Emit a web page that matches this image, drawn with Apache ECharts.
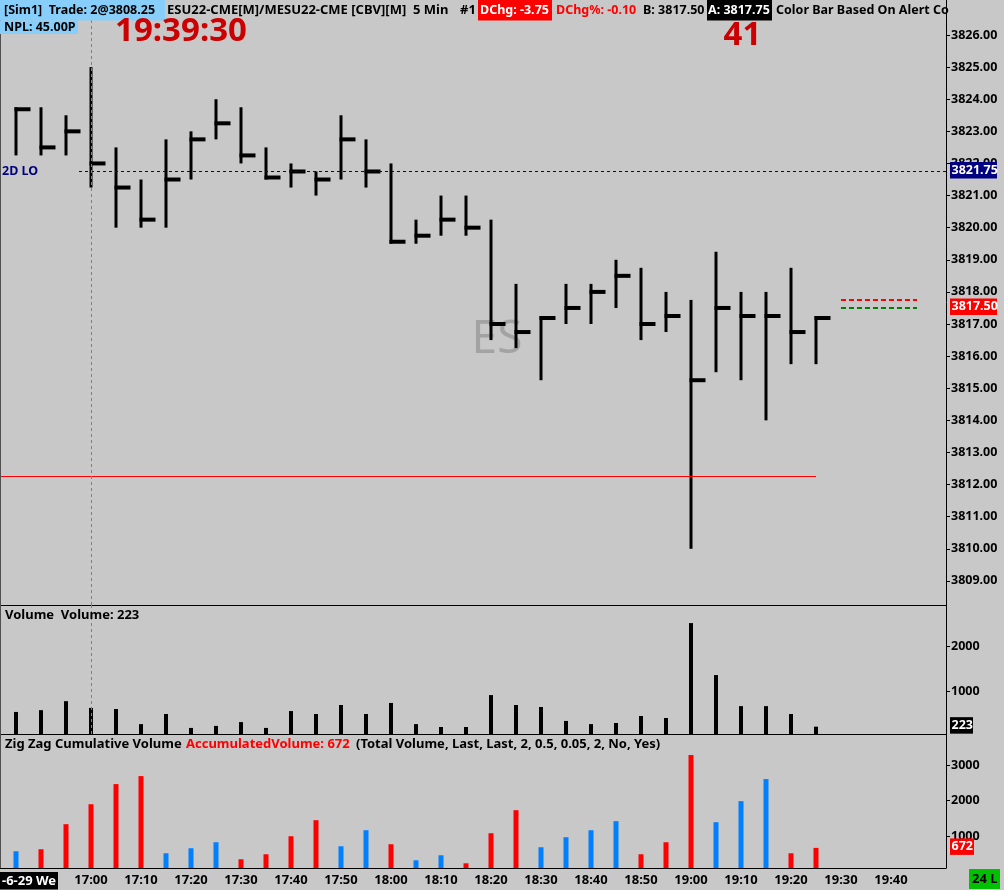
<!DOCTYPE html>
<html>
<head>
<meta charset="utf-8">
<script src="https://cdn.jsdelivr.net/npm/echarts@6/dist/echarts.min.js"></script>
<style>
  html, body { margin: 0; padding: 0; background: #c8c8c8; }
  #chart { width: 1004px; height: 890px; }
</style>
</head>
<body>
<div id="chart"></div>
<script>
// 5 min bars, ESU22
const times = ['16:45', '16:50', '16:55', '17:00', '17:05', '17:10', '17:15', '17:20', '17:25', '17:30', '17:35',
  '17:40', '17:45', '17:50', '17:55', '18:00', '18:05', '18:10', '18:15', '18:20', '18:25', '18:30', '18:35',
  '18:40', '18:45', '18:50', '18:55', '19:00', '19:05', '19:10', '19:15', '19:20', '19:25']
const highs = [3823.75, 3823.75, 3823.5, 3825.0, 3822.5, 3821.5, 3822.75, 3823.0, 3824.0, 3823.75, 3822.5,
  3822.0, 3821.75, 3823.5, 3822.75, 3822.0, 3820.25, 3821.0, 3821.0, 3820.25, 3818.25, 3817.25, 3818.25,
  3818.25, 3819.0, 3818.75, 3818.0, 3817.75, 3819.25, 3818.0, 3818.0, 3818.75, 3817.25]
const lows = [3822.25, 3822.25, 3822.25, 3821.25, 3820.0, 3820.0, 3820.0, 3821.5, 3822.75, 3822.0, 3821.5,
  3821.25, 3821.0, 3821.5, 3821.25, 3819.5, 3819.5, 3819.75, 3819.75, 3816.5, 3816.25, 3815.25, 3817.0,
  3817.0, 3817.5, 3816.5, 3816.75, 3810.0, 3815.5, 3815.25, 3814.0, 3815.75, 3815.75]
const closes = [3823.75, 3822.5, 3823.0, 3822.0, 3821.25, 3820.25, 3821.5, 3822.75, 3823.25, 3822.25, 3821.5,
  3821.75, 3821.5, 3822.75, 3821.75, 3819.5, 3819.75, 3820.25, 3820.0, 3817.0, 3816.75, 3817.25, 3817.5,
  3818.0, 3818.5, 3817.0, 3817.25, 3815.25, 3817.5, 3817.25, 3817.25, 3816.75, 3817.25]
const volumes = [550, 590, 790, 640, 615, 280, 505, 195, 240, 325, 195,
  570, 505, 705, 505, 750, 280, 215, 215, 925, 705, 660, 350,
  280, 305, 460, 415, 2525, 1370, 680, 680, 505, 223]
const zigzagVol = [577, 634, 1338, 1900, 2465, 2690, 521, 662, 831, 352, 493,
  1000, 1451, 718, 1169, 775, 324, 465, 239, 1085, 1732, 690, 972,
  1169, 1423, 493, 831, 3282, 1394, 1986, 2606, 521, 672]
// 1 = up leg (red), 0 = down leg (blue)
const zigzagUp = [0, 1, 1, 1, 1, 1, 0, 0, 0, 1, 1,
  1, 1, 0, 0, 1, 0, 0, 1, 1, 1, 0, 0,
  0, 0, 1, 1, 1, 0, 0, 0, 1, 1]

const priceTicks = [3809, 3810, 3811, 3812, 3813, 3814, 3815, 3816, 3817, 3818, 3819, 3820, 3821, 3822, 3823, 3824, 3825, 3826]
const volTicks = [1000, 2000]
const zzTicks = [1000, 2000, 3000]
const timeTicks = ['17:00', '17:10', '17:20', '17:30', '17:40', '17:50', '18:00', '18:10', '18:20', '18:30',
  '18:40', '18:50', '19:00', '19:10', '19:20', '19:30', '19:40']

const twoDayLow = 3821.75
const redLevel = 3812.25
const askLevel = 3817.75
const bidLevel = 3817.50
const cursorTime = '17:00'

const toMin = s => { const p = s.split(':'); return +p[0] * 60 + +p[1] }
const fmtTime = v => Math.floor(v / 60) + ':' + String(Math.round(v % 60)).padStart(2, '0')
const xs = times.map(toMin)
const xMin = 1001.8
const xMax = 1191

const FONT = '"Noto Sans", "DejaVu Sans", sans-serif'
const labelStyle = { color: '#000', fontWeight: 'bold', fontSize: 12.5, fontFamily: FONT, margin: 5 }

const chart = echarts.init(document.getElementById('chart'))

const xAxes = [0, 1, 2].map(i => ({
  type: 'value',
  gridIndex: i,
  min: xMin,
  max: xMax,
  axisLine: { show: true, onZero: false, lineStyle: { color: '#000', width: 1 } },
  axisTick: { show: false },
  splitLine: { show: false },
  axisLabel: i === 2
    ? Object.assign({}, labelStyle, { fontSize: 13, margin: 6, customValues: timeTicks.map(toMin), formatter: fmtTime })
    : { show: false },
}))

function yAxisFor(i, min, max, ticks, fmt) {
  return {
    type: 'value',
    gridIndex: i,
    position: 'right',
    min: min,
    max: max,
    axisLine: { show: true, onZero: false, lineStyle: { color: '#000', width: 1 } },
    axisTick: { show: true, length: 4, lineStyle: { color: '#000' }, customValues: ticks },
    splitLine: { show: false },
    axisLabel: Object.assign({}, labelStyle, { customValues: ticks, formatter: fmt }),
  }
}

const dashGray = { color: '#808080', type: [3, 3], width: 1 }

const option = {
  backgroundColor: '#c8c8c8',
  animation: false,
  grid: [
    { left: 0, right: 58, top: 0, height: 605 },
    { left: 0, right: 58, top: 605, height: 129 },
    { left: 0, right: 58, top: 734, height: 134 },
  ],
  xAxis: xAxes,
  yAxis: [
    yAxisFor(0, 3808.25, 3827.09, priceTicks, v => v.toFixed(2)),
    yAxisFor(1, 60, 2927, volTicks, v => String(v)),
    yAxisFor(2, 107, 3873, zzTicks, v => String(v)),
  ],
  series: [
    {
      // HLC bars
      type: 'custom',
      xAxisIndex: 0,
      yAxisIndex: 0,
      data: xs.map((x, i) => [x, highs[i], lows[i], closes[i]]),
      encode: { x: 0, y: [1, 2, 3] },
      renderItem: function (params, api) {
        const t = api.value(0)
        const top = api.coord([t, api.value(1)])
        const bot = api.coord([t, api.value(2)])
        const cl = api.coord([t, api.value(3)])
        let cy = cl[1] - 2
        if (cy < top[1]) cy = top[1]
        if (cy + 4 > bot[1]) cy = bot[1] - 4
        return {
          type: 'group',
          children: [
            { type: 'rect', shape: { x: top[0] - 1.5, y: top[1], width: 3, height: bot[1] - top[1] }, style: { fill: '#000' } },
            { type: 'rect', shape: { x: top[0] - 1.5, y: cy, width: 16, height: 4 }, style: { fill: '#000' } },
          ],
        }
      },
      z: 3,
    },
    {
      // levels and cursor on the price pane
      type: 'line',
      xAxisIndex: 0,
      yAxisIndex: 0,
      data: xs.map((x, i) => [x, closes[i]]),
      symbol: 'none',
      lineStyle: { opacity: 0 },
      silent: true,
      z: 5,
      markLine: {
        symbol: ['none', 'none'],
        silent: true,
        label: { show: false },
        data: [
          [{ coord: [1017.6, twoDayLow], lineStyle: { color: '#000080', type: [3, 3], width: 1 } }, { coord: [xMax, twoDayLow] }],
          [{ coord: [xMin, redLevel], lineStyle: { color: '#ff0000', type: 'solid', width: 1 } }, { coord: [toMin('19:25'), redLevel] }],
          [{ coord: [1170, askLevel], lineStyle: { color: '#ff0000', type: [5, 3], width: 2 } }, { coord: [1185.2, askLevel] }],
          [{ coord: [1170, bidLevel], lineStyle: { color: '#008000', type: [5, 3], width: 2 } }, { coord: [1185.2, bidLevel] }],
          { xAxis: toMin(cursorTime), lineStyle: dashGray },
        ],
      },
    },
    {
      type: 'bar',
      xAxisIndex: 1,
      yAxisIndex: 1,
      data: xs.map((x, i) => [x, volumes[i]]),
      barWidth: 4,
      itemStyle: { color: '#000' },
      markLine: {
        symbol: ['none', 'none'],
        silent: true,
        label: { show: false },
        lineStyle: dashGray,
        data: [{ xAxis: toMin(cursorTime) }],
      },
    },
    {
      type: 'bar',
      xAxisIndex: 2,
      yAxisIndex: 2,
      data: xs.map((x, i) => ({
        value: [x, zigzagVol[i]],
        itemStyle: { color: zigzagUp[i] ? '#ff0000' : '#0080ff' },
      })),
      barWidth: 5,
    },
  ],
}
chart.setOption(option)

// overlay texts, tags on the price scale
const yPx = (idx, v) => chart.convertToPixel({ yAxisIndex: idx }, v)
const bold13 = 'bold 13px ' + FONT
const bold12 = 'bold 12.5px ' + FONT
function txt(text, x, y, fill, font) {
  return { type: 'text', z: 100, x: x, y: y, style: { text: text, font: font || bold13, fill: fill, verticalAlign: 'middle' } }
}
function box(x, y, w, h, fill) {
  return { type: 'rect', z: 99, shape: { x: x, y: y, width: w, height: h }, style: { fill: fill } }
}
function tag(value, idx, label, w, bg, fg) {
  const y = yPx(idx, value) - 1.5
  return [box(950, y - 8, w, 16.5, bg), txt(label, 951.5, y, fg, bold12)]
}

const graphics = [
  // watermark
  { type: 'text', z: 1, x: 497, y: 340, style: { text: 'ES', font: '46px ' + FONT, fill: '#a3a3a3', align: 'center', verticalAlign: 'middle' } },
  // left border
  { type: 'rect', z: 99, shape: { x: 0, y: 0, width: 1, height: 868 }, style: { fill: '#505050' } },
  // header
  box(0, 0, 165, 20.5, '#87cefa'),
  txt('[Sim1]  Trade: 2@3808.25', 4, 10.5, '#000', bold12),
  box(0, 20.5, 78, 13.5, '#87cefa'),
  txt('NPL: 45.00P', 4, 27, '#000', bold12),
  txt('ESU22-CME[M]/MESU22-CME [CBV][M]', 167, 10.5, '#000'),
  txt('5 Min', 413, 10.5, '#000'),
  txt('#1', 460, 10.5, '#000'),
  box(478, 0, 74, 20.5, '#ff0000'),
  txt('DChg: -3.75', 480, 10.5, '#fff', bold12),
  txt('DChg%: -0.10', 556, 10.5, '#ff0000', bold12),
  txt('B: 3817.50', 643, 10.5, '#000', bold12),
  box(707, 0, 65, 20.5, '#000'),
  txt('A: 3817.75', 708, 10.5, '#fff', bold12),
  txt('Color Bar Based On Alert Co', 776, 10.5, '#000', bold12),
  { type: 'text', z: 100, x: 181, y: 32, style: { text: '19:39:30', font: 'bold 33px ' + FONT, fill: '#cc0000', align: 'center', verticalAlign: 'middle' } },
  { type: 'text', z: 100, x: 742.5, y: 35.5, style: { text: '41', font: 'bold 33px ' + FONT, fill: '#cc0000', align: 'center', verticalAlign: 'middle' } },
  txt('2D LO', 2, yPx(0, twoDayLow), '#000080', bold12),
  // pane titles
  txt('Volume  Volume: 223', 5, 615, '#000'),
  txt('Zig Zag Cumulative Volume', 5, 744.5, '#000'),
  txt('AccumulatedVolume: 672', 186, 744.5, '#ff0000'),
  txt('(Total Volume, Last, Last, 2, 0.5, 0.05, 2, No, Yes)', 356, 744.5, '#000'),
  // bottom
  box(0, 872, 58, 17.5, '#000'),
  txt('-6-29 We', 2, 881, '#fff'),
  box(969, 869, 31, 20, '#00c000'),
  txt('24 L', 972, 879, '#000'),
]
  .concat(tag(twoDayLow, 0, '3821.75', 47, '#000080', '#fff'))
  .concat(tag(bidLevel, 0, '3817.50', 47, '#ff0000', '#fff'))
  .concat(tag(volumes[volumes.length - 1], 1, String(volumes[volumes.length - 1]), 23, '#000', '#fff'))
  .concat(tag(zigzagVol[zigzagVol.length - 1], 2, String(zigzagVol[zigzagVol.length - 1]), 24, '#ff0000', '#fff'))

chart.setOption({ graphic: graphics })
</script>
</body>
</html>
